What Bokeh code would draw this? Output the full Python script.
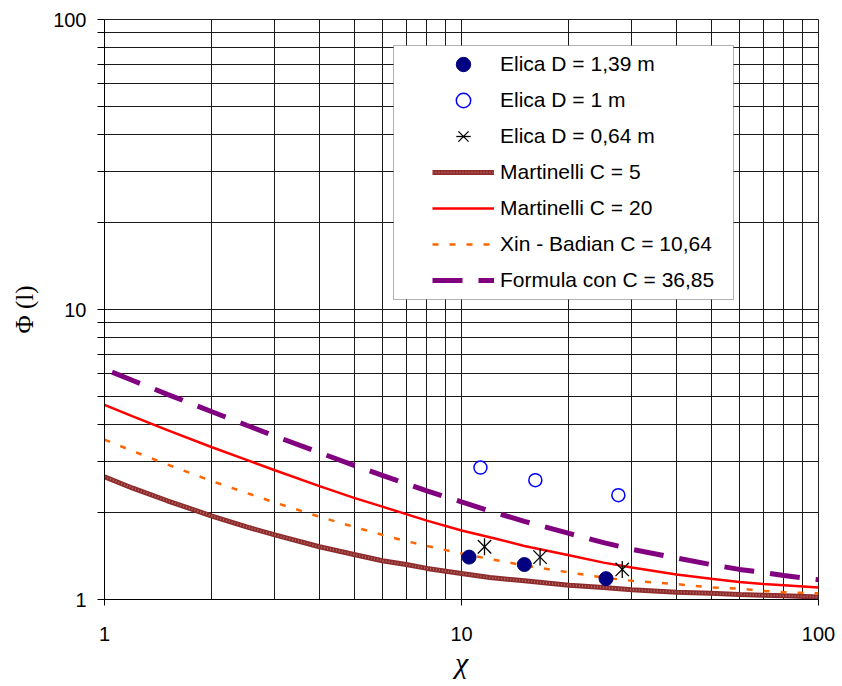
import math
from bokeh.plotting import figure
from bokeh.models import (Range1d, FixedTicker, NumeralTickFormatter, Legend,
                          LegendItem, BoxAnnotation)
from bokeh.embed import file_html
from bokeh.resources import INLINE

# ---- data ----
chi_curve = [1, 1.2, 1.5, 2, 2.5, 3, 4, 5, 6, 7, 8, 10, 12, 15, 20, 25, 30, 40, 50, 60, 70, 80, 100]
phi_martinelli_5 = [2.65, 2.42, 2.19, 1.94, 1.78, 1.67, 1.52, 1.43, 1.36, 1.32, 1.28, 1.23, 1.19,
                    1.16, 1.12, 1.10, 1.08, 1.06, 1.05, 1.04, 1.035, 1.03, 1.02]
phi_martinelli_20 = [4.69, 4.28, 3.84, 3.35, 3.03, 2.79, 2.46, 2.24, 2.09, 1.97, 1.87, 1.73, 1.64,
                     1.53, 1.42, 1.34, 1.29, 1.22, 1.18, 1.15, 1.13, 1.12, 1.10]
phi_xin_badian = [3.56, 3.25, 2.92, 2.56, 2.33, 2.16, 1.93, 1.78, 1.67, 1.59, 1.53, 1.44, 1.38,
                  1.31, 1.24, 1.19, 1.16, 1.13, 1.10, 1.09, 1.07, 1.06, 1.05]
chi_formula = [1.05, 1.2, 1.5, 2, 2.5, 3, 4, 5, 6, 7, 8, 10, 12, 15, 20, 25, 30, 40, 50, 60, 70, 80, 100]
phi_formula = [6.08, 5.69, 5.10, 4.44, 3.99, 3.66, 3.21, 2.90, 2.68, 2.51, 2.37, 2.17, 2.02,
               1.86, 1.69, 1.57, 1.49, 1.39, 1.32, 1.27, 1.24, 1.21, 1.17]

chi_d139 = [10.5, 15.0, 25.4]
phi_d139 = [1.40, 1.32, 1.18]
chi_d100 = [11.3, 16.1, 27.5]
phi_d100 = [2.85, 2.58, 2.29]
chi_d064 = [11.6, 16.6, 28.2]
phi_d064 = [1.52, 1.40, 1.27]

major_ticks = [1, 10, 100]
minor_ticks = [2, 3, 4, 5, 6, 7, 8, 9, 20, 30, 40, 50, 60, 70, 80, 90]

labels = ["Elica D = 1,39 m", "Elica D = 1 m", "Elica D = 0,64 m", "Martinelli C = 5",
          "Martinelli C = 20", "Xin - Badian C = 10,64", "Formula con C = 36,85"]

# ---- figure ----
p = figure(x_axis_type="log", y_axis_type="log",
           x_range=Range1d(1, 100), y_range=Range1d(1, 100),
           frame_width=714, frame_height=580,
           min_border_left=104, min_border_right=18, min_border_top=19, min_border_bottom=84,
           output_backend="svg", toolbar_location=None,
           background_fill_color="white", border_fill_color="white")
p.outline_line_color = "#222222"

for ax in (p.xaxis[0], p.yaxis[0]):
    ax.ticker = FixedTicker(ticks=major_ticks, minor_ticks=minor_ticks)
    ax.formatter = NumeralTickFormatter(format="0")
    ax.axis_line_color = "black"
    ax.major_tick_line_color = "black"
    ax.minor_tick_line_color = "black"
    ax.major_tick_in = 0
    ax.minor_tick_in = 0
    ax.major_label_text_font = "Liberation Sans"
    ax.major_label_text_font_size = "20px"
    ax.major_label_text_color = "black"
    ax.axis_label_text_color = "black"

p.xaxis.major_tick_out = 6
p.xaxis.minor_tick_out = 0
p.xaxis.major_label_standoff = 21
p.xaxis.axis_label = "χ"
p.xaxis.axis_label_text_font = "Liberation Serif"
p.xaxis.axis_label_text_font_style = "italic"
p.xaxis.axis_label_text_font_size = "30px"
p.xaxis.axis_label_standoff = 2

p.yaxis.major_tick_out = 7
p.yaxis.minor_tick_out = 7
p.yaxis.major_label_standoff = 11
p.yaxis.axis_label = "Φ (l)"
p.yaxis.axis_label_text_font = "Liberation Serif"
p.yaxis.axis_label_text_font_style = "normal"
p.yaxis.axis_label_text_font_size = "25px"
p.yaxis.axis_label_standoff = 12

for g in (p.xgrid[0], p.ygrid[0]):
    g.grid_line_color = "#1a1a1a"
    g.grid_line_width = 1
    g.minor_grid_line_color = "#1a1a1a"
    g.minor_grid_line_width = 1

# ---- curves ----
r_m5a = p.line(chi_curve, phi_martinelli_5, line_color="#8E2B2B", line_width=5)
r_m5b = p.line(chi_curve, phi_martinelli_5, line_color="#C98A8A", line_width=2,
               line_dash="1 2", line_alpha=0.7)
r_m20 = p.line(chi_curve, phi_martinelli_20, line_color="#FF0000", line_width=2.5)
r_xin = p.line(chi_curve, phi_xin_badian, line_color="#FF6600", line_width=2.5, line_dash="6 11")
r_for = p.line(chi_formula, phi_formula, line_color="#800080", line_width=5, line_dash="30 16")

# ---- points ----
r_d139 = p.scatter(chi_d139, phi_d139, marker="circle", size=14,
                   fill_color="#000080", line_color="#000080")
r_d100 = p.scatter(chi_d100, phi_d100, marker="circle", size=13,
                   fill_color=None, line_color="#0000FF", line_width=1.5)
r_d064a = p.scatter(chi_d064, phi_d064, marker="x", size=19,
                    line_color="black", line_width=1.3)
r_d064b = p.scatter(chi_d064, phi_d064, marker="dash", size=17, angle=math.pi / 2,
                    line_color="black", line_width=1.3)

# ---- legend ----
box = BoxAnnotation(left=289, right=629, top=554, bottom=300,
                    left_units="screen", right_units="screen",
                    top_units="screen", bottom_units="screen",
                    fill_color="white", fill_alpha=1.0,
                    line_color="black", line_width=1)
p.add_layout(box)

items = [
    LegendItem(label=labels[0], renderers=[r_d139]),
    LegendItem(label=labels[1], renderers=[r_d100]),
    LegendItem(label=labels[2], renderers=[r_d064a, r_d064b]),
    LegendItem(label=labels[3], renderers=[r_m5a, r_m5b]),
    LegendItem(label=labels[4], renderers=[r_m20]),
    LegendItem(label=labels[5], renderers=[r_xin]),
    LegendItem(label=labels[6], renderers=[r_for]),
]
legend = Legend(items=items, location=(328, 301), padding=1, spacing=0, margin=0,
                glyph_width=62, glyph_height=36, label_height=36, label_standoff=6,
                label_text_font="Liberation Sans", label_text_font_size="21px",
                label_text_color="black",
                border_line_color=None, background_fill_alpha=0.0)
p.add_layout(legend)

open("out.html", "w").write(file_html(p, INLINE))
